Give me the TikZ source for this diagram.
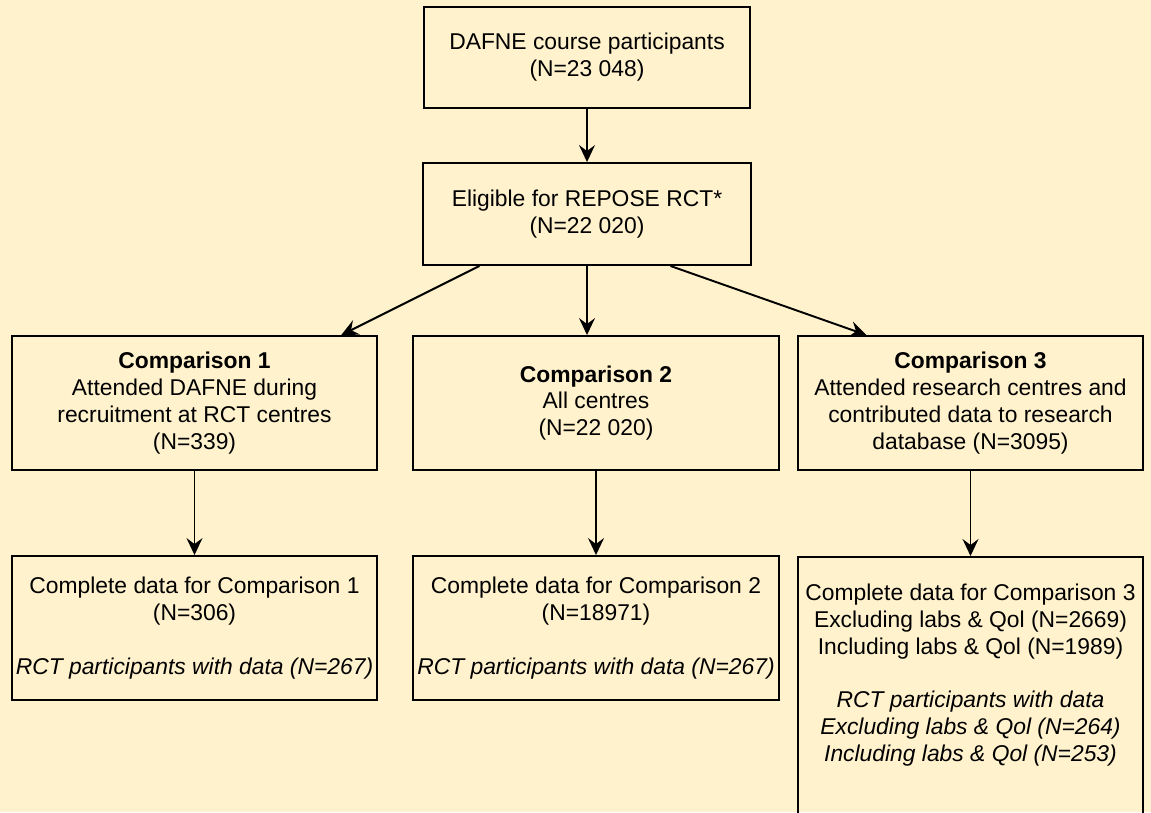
\documentclass[tikz,border=0pt]{standalone}
\usepackage{fontspec}
\setmainfont{Liberation Sans}
\usetikzlibrary{arrows.meta,calc}
\definecolor{bgyellow}{HTML}{FFF2CC}

\begin{document}
\begin{tikzpicture}[x=0.02cm, y=-0.02cm,
    box/.style={draw, line width=1.1pt, align=center, inner sep=0pt,
      font=\fontsize{13pt}{15.3pt}\selectfont},
    boxtext/.style={align=center, inner sep=0pt, font=\fontsize{13pt}{15.3pt}\selectfont},
    arr/.style={line width=1.1pt, -{Stealth[length=0.34cm,width=0.32cm,inset=0.12cm]}}]
  \fill[bgyellow] (0,0) rectangle (1151,812);
  \useasboundingbox (0,0) rectangle (1151,812);
  \clip (0,0) rectangle (1151,812);
  % Nodes
  \node[box, minimum width=6.52cm, minimum height=2.02cm] (dafne) at (587,57.5)
    {DAFNE course participants\\(N=23 048)};
  \node[box, minimum width=6.56cm, minimum height=2.04cm] (elig) at (587,214)
    {Eligible for REPOSE RCT*\\(N=22 020)};
  \node[box, minimum width=7.3cm, minimum height=2.68cm] (comp1) at (194.5,403)
    {\textbf{Comparison 1}\\Attended DAFNE during\\recruitment at RCT centres\\(N=339)};
  \node[box, minimum width=7.32cm, minimum height=2.68cm] (comp2) at (596,403)
    {\textbf{Comparison 2}\\All centres\\ (N=22 020)};
  \node[box, minimum width=6.9cm, minimum height=2.68cm] (comp3) at (970.5,403)
    {\textbf{Comparison 3}\\Attended research centres and\\contributed data to research\\database (N=3095)};
  \node[box, minimum width=7.3cm, minimum height=2.88cm] (data1) at (194.5,628)
    {Complete data for Comparison 1\\(N=306)\\[15.3pt]\textit{RCT participants with data (N=267)}};
  \node[box, minimum width=7.32cm, minimum height=2.88cm] (data2) at (596,628)
    {Complete data for Comparison 2\\(N=18971)\\[15.3pt]\textit{RCT participants with data (N=267)}};
  \node[box, anchor=north, minimum width=6.9cm, minimum height=6cm] (data3) at (970.5,556) {};
  \node[boxtext] (data3text) at (970.5,675)
    {Complete data for Comparison 3\\Excluding labs \& Qol (N=2669)\\Including labs \& Qol (N=1989)\\[15.3pt]
     \textit{RCT participants with data}\\\textit{Excluding labs \& Qol (N=264)}\\\textit{Including labs \& Qol (N=253)}};
  % Edges
  \draw[arr] (dafne.south) -- (elig.north);
  \draw[arr] ($(elig.south west)!0.174!(elig.south east)$) -- ($(comp1.north west)!0.9!(comp1.north east)$);
  \draw[arr] (elig.south) -- (elig.south |- comp2.north);
  \draw[arr] ($(elig.south west)!0.753!(elig.south east)$) -- ($(comp3.north west)!0.2!(comp3.north east)$);
  \foreach \i in {1,2,3} {
    \draw[arr] (comp\i.south) -- (data\i.north);
  }
\end{tikzpicture}
\end{document}
